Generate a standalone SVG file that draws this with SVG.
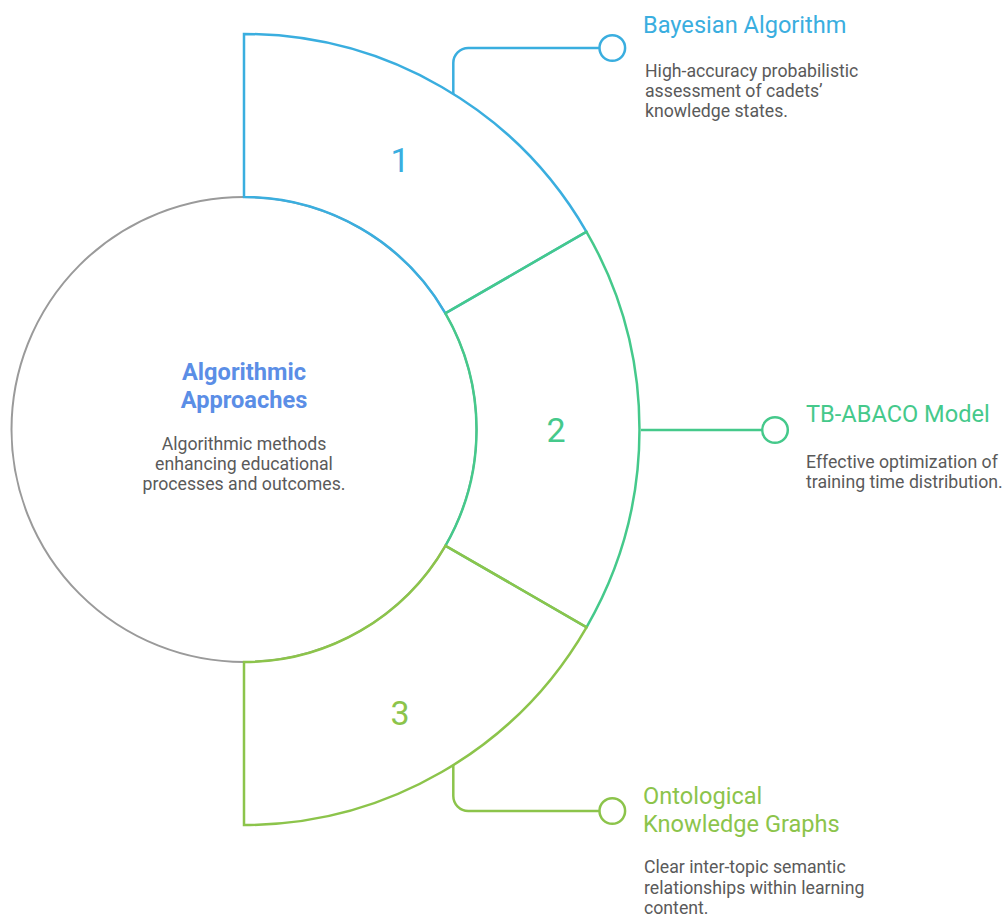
<svg xmlns="http://www.w3.org/2000/svg" width="1003" height="916" viewBox="0 0 1003 916">
<style>
  .seg { fill: none; stroke-width: 2.5; stroke-linejoin: miter; }
  .c1 { stroke: #3aaedf; }
  .c2 { stroke: #45c98b; }
  .c3 { stroke: #8cc44b; }
  .num { font-family: Roboto, "Liberation Sans", sans-serif; font-size: 34px; text-anchor: middle; }
  .title { font-family: Roboto, "Liberation Sans", sans-serif; font-size: 23.6px; }
  .desc { font-family: Roboto, "Liberation Sans", sans-serif; font-size: 17.7px; fill: #5a5a5a; }
  .dot { fill: #ffffff; stroke-width: 2.5; }
</style>
<rect width="1003" height="916" fill="#ffffff"/>
<g id="center">
  <circle cx="244" cy="429.5" r="232.5" fill="none" stroke="#9a9a9a" stroke-width="2"/>
  <text x="244" y="380" text-anchor="middle" font-family="Roboto, 'Liberation Sans', sans-serif" font-size="23.6" font-weight="bold" fill="#5b8ee6">Algorithmic</text>
  <text x="244" y="408" text-anchor="middle" font-family="Roboto, 'Liberation Sans', sans-serif" font-size="23.6" font-weight="bold" fill="#5b8ee6">Approaches</text>
  <text class="desc" x="244" y="450" text-anchor="middle">Algorithmic methods</text>
  <text class="desc" x="244" y="470" text-anchor="middle">enhancing educational</text>
  <text class="desc" x="244" y="490" text-anchor="middle">processes and outcomes.</text>
</g>
<g id="segment1">
  <path class="seg c1" d="M244,34 A395.5,395.5 0 0 1 586.5,231.75 L445.4,313.25 A232.5,232.5 0 0 0 244,197 Z"/>
  <text class="num" x="400" y="172" fill="#3aaedf">1</text>
</g>
<g id="segment2">
  <path class="seg c2" d="M586.5,231.75 A395.5,395.5 0 0 1 586.5,627.25 L445.4,545.75 A232.5,232.5 0 0 0 445.4,313.25 Z"/>
  <text class="num" x="556" y="442" fill="#45c98b">2</text>
</g>
<g id="segment3">
  <path class="seg c3" d="M586.5,627.25 A395.5,395.5 0 0 1 244,825 L244,662 A232.5,232.5 0 0 0 445.4,545.75 Z"/>
  <text class="num" x="400" y="725" fill="#8cc44b">3</text>
</g>
<g id="connectors">
  <path class="seg c1" d="M453.3,94 L453.3,63 A15,15 0 0 1 468.3,48 L599.5,48"/>
  <path class="seg c2" d="M641,430 L762,430"/>
  <path class="seg c3" d="M453.3,765 L453.3,796 A15,15 0 0 0 468.3,811 L599.5,811"/>
</g>
<g id="bayesian">
  <circle class="dot c1" cx="612.3" cy="48" r="12.8"/>
  <text class="title" x="643" y="33" fill="#3aaedf">Bayesian Algorithm</text>
  <text class="desc" x="645" y="77">High-accuracy probabilistic</text>
  <text class="desc" x="645" y="97">assessment of cadets’</text>
  <text class="desc" x="645" y="117">knowledge states.</text>
</g>
<g id="tbabaco">
  <circle class="dot c2" cx="775" cy="430" r="12.8"/>
  <text class="title" x="806" y="422" fill="#45c98b">TB-ABACO Model</text>
  <text class="desc" x="806" y="468">Effective optimization of</text>
  <text class="desc" x="806" y="488">training time distribution.</text>
</g>
<g id="ontological">
  <circle class="dot c3" cx="612.3" cy="811" r="12.8"/>
  <text class="title" x="643" y="804" fill="#8cc44b">Ontological</text>
  <text class="title" x="643" y="832" fill="#8cc44b">Knowledge Graphs</text>
  <text class="desc" x="644" y="873">Clear inter-topic semantic</text>
  <text class="desc" x="644" y="894">relationships within learning</text>
  <text class="desc" x="644" y="914">content.</text>
</g>
</svg>
